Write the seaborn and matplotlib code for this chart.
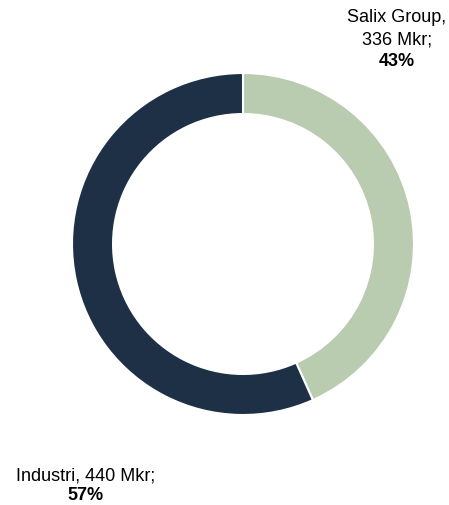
import numpy as np
import matplotlib
matplotlib.use('Agg')
import matplotlib.pyplot as plt
import seaborn as sns

# Segment data (Mkr)
segments = ['Salix Group', 'Industri']
values = [336, 440]
colors = ['#b9ccb0', '#1d3045']

sns.set_theme(style='white')
plt.rcParams['font.family'] = ['Liberation Sans', 'DejaVu Sans']

W, H = 449, 506
fig = plt.figure(figsize=(W / 100, H / 100), dpi=100)
fig.patch.set_facecolor('white')

cx, cy, r = 243, 245, 171
ax = fig.add_axes([(cx - r) / W, (H - cy - r) / H, 2 * r / W, 2 * r / H])
ax.pie(values, colors=colors, startangle=90, counterclock=False, radius=1,
       wedgeprops=dict(width=0.24, edgecolor='white', linewidth=1.5))
ax.set_xlim(-1, 1)
ax.set_ylim(-1, 1)
ax.set_aspect('equal')
ax.axis('off')

total = sum(values)
pcts = [round(v / total * 100) for v in values]

def px(x, y):
    return x / W, 1 - y / H

fs = 13
# Salix Group label
fig.text(*px(397, 18), f'{segments[0]},', ha='center', va='center', fontsize=fs, color='#000000')
fig.text(*px(397, 40), f'{values[0]} Mkr;', ha='center', va='center', fontsize=fs, color='#000000')
fig.text(*px(397, 62), f'{pcts[0]}%', ha='center', va='center', fontsize=fs, fontweight='bold', color='#000000')
# Industri label
fig.text(*px(86, 476), f'{segments[1]}, {values[1]} Mkr;', ha='center', va='center', fontsize=fs, color='#000000')
fig.text(*px(86, 496), f'{pcts[1]}%', ha='center', va='center', fontsize=fs, fontweight='bold', color='#000000')

fig.savefig('out.png', dpi=100, facecolor='white')
